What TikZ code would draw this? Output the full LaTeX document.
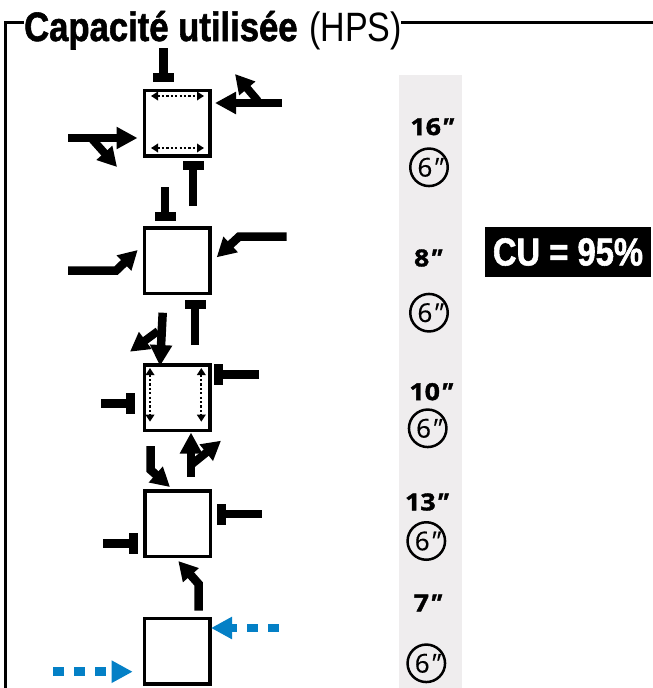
\documentclass[tikz,border=0pt]{standalone}
\usepackage{fontspec}
\usetikzlibrary{arrows.meta}
\setmainfont{Open Sans}
\newfontfamily\condfont[FakeStretch=.83]{Liberation Sans}
\newfontfamily\condbold[FakeStretch=.845,FakeBold=1.4]{Liberation Sans Bold}
\newfontfamily\cubold[FakeStretch=.84,FakeBold=1.4]{Liberation Sans Bold}
\newfontfamily\heavyfont[FakeStretch=1.14,FakeBold=1.6]{Open Sans Bold}
\newfontfamily\circfont[FakeBold=.3]{Open Sans}
\definecolor{bandgray}{HTML}{EFEDEE}
\definecolor{flowblue}{HTML}{0480C6}
\newcommand{\dprime}{\kern-2pt{\addfontfeatures{FakeSlant=.25}″}}
\tikzset{
  framebox/.style={draw,line width=3.5pt,minimum size=65.5pt,inner sep=0pt,outer sep=1.75pt},
  arr/.style={line width=8.5pt,miter limit=10,-{Triangle[length=21pt,width=21pt]}},
  smallarr/.style={line width=8.5pt,miter limit=10,line join=miter,-{Triangle[length=19pt,width=20pt]}},
  branch/.style={line width=8pt,-{Triangle[length=19pt,width=20pt]}},
  tbar/.style={line width=8.5pt,-{Rectangle[length=9pt,width=21pt]}},
  dotarr/.style={line width=2.2pt,dash pattern=on 2.2pt off 2.2pt,{Triangle[length=7pt,width=8.5pt]}-{Triangle[length=7pt,width=8.5pt]}},
  bluearr/.style={draw=flowblue,line width=8.5pt,dash pattern=on 10.5pt off 10.5pt,-{Triangle[length=21pt,width=21pt,color=flowblue]}},
  timelbl/.style={font=\heavyfont\fontsize{23.5}{23.5}\selectfont,inner sep=0pt},
  circlbl/.style={draw,circle,line width=2.5pt,minimum size=37.5pt,inner sep=0pt,font=\circfont\fontsize{26}{26}\selectfont},
  titlelbl/.style={inner sep=0pt,anchor=base west}
}
\begin{document}
\begin{tikzpicture}[x=1pt,y=-1pt]
\useasboundingbox (0,0) rectangle (653,688);
% grey band
\fill[bandgray] (399,75) rectangle (462,688);
% title and frame
\node[titlelbl,font=\condbold\fontsize{41}{41}\selectfont] (title) at (24,41) {Capacité utilisée};
\node[titlelbl,font=\condfont\fontsize{41}{41}\selectfont] (hps) at (309,41) {(HPS)};
\coordinate (fa) at (5,688);
\coordinate (fb) at (5,22.5);
\coordinate (fc) at (24,22.5);
\coordinate (fd) at (401,22.5);
\coordinate (fe) at (653,22.5);
\draw[line width=3pt] (fa) -- (fb) -- (fc);
\draw[line width=3pt] (fd) -- (fe);
% boxes
\node[framebox] (b1) at (177.3,123.4) {};
\node[framebox] (b2) at (177.2,260.9) {};
\node[framebox] (b3) at (177.2,397.9) {};
\node[framebox] (b4) at (177.5,523.5) {};
\node[framebox] (b5) at (177,651.3) {};
% box 1
\coordinate (t1a) at (163.5,48);  \coordinate (t1b) at (163.5,82);
\draw[tbar] (t1a) -- (t1b);
\coordinate (t2a) at (193,206);   \coordinate (t2b) at (193,161);
\draw[tbar] (t2a) -- (t2b);
\coordinate (r1a) at (282,103);   \coordinate (r1b) at (215,103);
\draw[arr] (r1a) -- (r1b);
\coordinate (r1c) at (258,101);   \coordinate (r1d) at (235,74);
\draw[branch] (r1c) -- (r1d);
\coordinate (l1a) at (68,138);    \coordinate (l1b) at (137.5,138);
\draw[arr] (l1a) -- (l1b);
\coordinate (l1c) at (92,139);    \coordinate (l1d) at (117,167);
\draw[branch] (l1c) -- (l1d);
\coordinate (d1a) at (151,96);    \coordinate (d1b) at (204,96);
\draw[dotarr] (d1a) -- (d1b);
\coordinate (d2a) at (151,148);   \coordinate (d2b) at (204,148);
\draw[dotarr] (d2a) -- (d2b);
% box 2
\coordinate (t3a) at (165,187);   \coordinate (t3b) at (165,221);
\draw[tbar] (t3a) -- (t3b);
\coordinate (t4a) at (195,345);   \coordinate (t4b) at (195,300);
\draw[tbar] (t4a) -- (t4b);
\coordinate (l2a) at (68,270.7);  \coordinate (l2b) at (116,270.7); \coordinate (l2c) at (137.7,250);
\draw[smallarr] (l2a) -- (l2b) -- (l2c);
\coordinate (r2a) at (286.7,236.7); \coordinate (r2b) at (239,236.7); \coordinate (r2c) at (216.7,257.3);
\draw[smallarr] (r2a) -- (r2b) -- (r2c);
% box 3
\coordinate (i3a) at (162.7,312.7); \coordinate (i3b) at (160,366);
\draw[arr] (i3a) -- (i3b);
\coordinate (i3c) at (158,331);   \coordinate (i3d) at (130,351.7);
\draw[branch] (i3c) -- (i3d);
\coordinate (t5a) at (259,374.5); \coordinate (t5b) at (214,374.5);
\draw[tbar] (t5a) -- (t5b);
\coordinate (t6a) at (101,403.5); \coordinate (t6b) at (135,403.5);
\draw[tbar] (t6a) -- (t6b);
\coordinate (d3a) at (150,368);   \coordinate (d3b) at (150,421.7);
\draw[dotarr] (d3a) -- (d3b);
\coordinate (d4a) at (201.3,368); \coordinate (d4b) at (201.3,421.7);
\draw[dotarr] (d4a) -- (d4b);
% between boxes 3 and 4
\coordinate (u1a) at (191,476.7); \coordinate (u1b) at (191,432.5);
\draw[arr] (u1a) -- (u1b);
\coordinate (u1c) at (191,465);   \coordinate (u1d) at (221,440.7);
\draw[branch] (u1c) -- (u1d);
\coordinate (i4a) at (150.7,446); \coordinate (i4b) at (150.7,470); \coordinate (i4c) at (170,487);
\draw[smallarr] (i4a) -- (i4b) -- (i4c);
% box 4
\coordinate (t7a) at (261.7,514); \coordinate (t7b) at (216.7,514);
\draw[tbar] (t7a) -- (t7b);
\coordinate (t8a) at (103,543.5); \coordinate (t8b) at (138,543.5);
\draw[tbar] (t8a) -- (t8b);
\coordinate (i5a) at (198.7,610.7); \coordinate (i5b) at (198.7,584); \coordinate (i5c) at (178.3,561);
\draw[smallarr] (i5a) -- (i5b) -- (i5c);
% box 5 (blue)
\coordinate (b1a) at (278.7,628); \coordinate (b1b) at (211,628);
\draw[bluearr] (b1a) -- (b1b);
\coordinate (b2a) at (53,671.7);  \coordinate (b2b) at (132.7,671.7);
\draw[bluearr] (b2a) -- (b2b);
% times
\node[timelbl] (n1) at (431,126.7) {16\dprime};
\node[circlbl] (c1) at (429,167.3) {6\dprime};
\node[timelbl] (n2) at (427,258) {8\dprime};
\node[circlbl] (c2) at (429,312.7) {6\dprime};
\node[timelbl] (n3) at (430,391.7) {10\dprime};
\node[circlbl] (c3) at (427.7,428.3) {6\dprime};
\node[timelbl] (n4) at (425.7,502) {13\dprime};
\node[circlbl] (c4) at (426.3,541) {6\dprime};
\node[timelbl] (n5) at (426.7,603) {7\dprime};
\node[circlbl] (c5) at (426.3,663.3) {6\dprime};
% result
\node[fill=black,text=white,minimum width=166pt,minimum height=50pt,inner sep=0pt,font=\cubold\fontsize{39}{39}\selectfont] (cu) at (568,252) {CU = 95\%};
\end{tikzpicture}
\end{document}
